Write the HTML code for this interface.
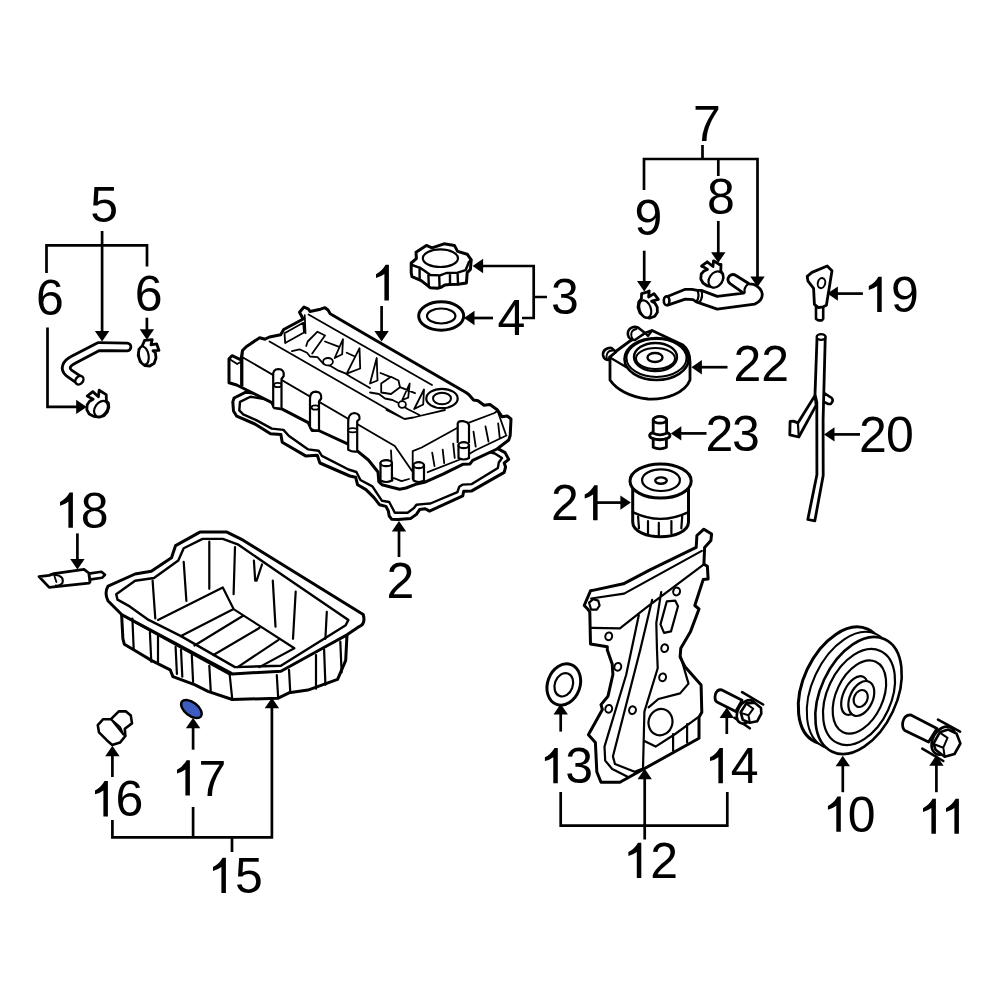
<!DOCTYPE html>
<html><head><meta charset="utf-8"><style>
html,body{margin:0;padding:0;background:#fff;}
svg{display:block;}
text{font-family:"Liberation Sans",sans-serif;font-size:50px;fill:#000;}
</style></head><body>
<svg width="1000" height="1000" viewBox="0 0 1000 1000">
<rect width="1000" height="1000" fill="#fff"/>
<g fill="#fff" stroke="#000" stroke-width="2.6" stroke-linejoin="round" stroke-linecap="round">
<path d="M497,448.1 L420,425 L300,398 L245.8,392.2 L234.1,398 L232.8,401.9 L233.5,411 L236.7,416.2 L254.9,424 L270.5,433.8 L280.9,434.4 L282.2,442.2 L305.6,455.9 L317.3,455.2 L319.9,463 L349.8,476 L355.6,477.2 L357.6,484.8 L366,489.6 L374,497.6 L379.6,504.8 L386,506.4 L388.4,511.2 L389.2,516 L391.6,519.2 L398,519.6 L410.8,518.4 L416.4,514.4 L419.6,509.6 L425.2,508.8 L429.5,511.1 L462.8,495.8 L463.7,491.3 L471.8,490.9 L504.2,472.4 L505.6,467 L504.2,463 L508.7,459.4 L505.1,452.6 Z" stroke-width="3"/>
<path d="M494.8,453.5 L420,432 L300,405 L250.4,396.7 L240,401.9 L239.3,410.4 L243.2,414.3 L256.2,420.1 L271.8,428.6 L283.5,429.9 L288.7,435.7 L308.2,449.4 L318.6,450.7 L321.9,455.9 L348.5,469.5 L356.4,472 L360.4,480 L372.4,486.4 L382,500.8 L389.2,502 L392.4,508 L394.8,512.8 L407.6,512.8 L414,508 L416.4,504.8 L425,503.9 L430.4,503.5 L457.4,492.2 L459.2,486.8 L462.8,484.6 L471.8,484.1 L497.9,467.9 L498.8,462.5 L502,458 Z" stroke-width="2.4"/>
<path d="M229.0,382.7 L229.0,358.7 L232.0,355.7 L241.0,359.8 L242.5,350.5 L246.2,346.7 L259.7,337.7 L265.0,339.2 L269.5,337.0 L280.7,334.7 L283.7,329.5 L303.2,319.0 L299.5,312.2 L304.0,307.0 L308.5,309.2 L310.0,311.5 L320.5,309.2 L325.0,307.7 L328.0,310.0 L330.2,313.7 L370.0,337.0 L466.0,392.5 L469.0,394.7 L473.5,400.0 L478.0,400.7 L484.0,405.2 L490.0,404.5 L497.5,410.0 L502.0,416.7 L507.2,416.0 L511.0,419.0 L510.2,435.5 L508.7,440 L497,449 L472.7,460.3 L470,463.9 L462.8,464.3 L443,474.2 L424.4,482.4 L415.6,484.4 L406,488 L399.6,489.2 L391.6,487.2 L382,484.8 L378.8,481.6 L378,472 L368.4,460 L349.8,444.8 L318.6,430.5 L312.1,430.5 L308.2,422.7 L282.2,409.1 L274.4,407.8 L271.8,402.6 L236.7,385 Z" stroke-width="3"/>
<path d="M229.0,358.7 L237.2,364.0 L241.0,361.7 M242.5,350.5 L242.5,385.7 M241.0,361.7 L241.0,385.0 M269.5,341.5 L404.5,419 M308.5,314.5 L432,385 M304.7,315.2 L305.5,333.2 M284.5,333.2 L303.2,322.7 L304.0,332.5 L285.2,343.0 Z M306.2,346.0 L307.7,341.5 L317.5,331.7 L325.0,335.5 L312.2,353.5 M325.0,341.5 L338.5,346.7 M346.7,352.7 L355.0,356.5 M343.0,339.2 L342.2,354.2 L334.7,358.0 Z M359.5,348.2 L360.2,368.5 L346.7,373.7 Z M292.0,351.2 L299.5,349.3 L307.0,352.7 L310.0,356.5 L317.5,357.2 L323.5,364.0 L331.0,366.2 L338.5,370.7 L346.0,373.7 L350.5,376.7 L370.0,388.0 M376.7,358.0 L377.5,380.5 L370.0,383.5 Z M380.5,373.0 L389.5,376.7 M381.2,383.5 L391.0,376.7 L398.5,380.5 L400.0,387.2 L391.0,394.0 L381.2,392.5 Z M400.0,387.2 L415.0,393.2 M409.7,383.5 L408.2,397.7 L402.2,400.0 Z M424.0,389.5 L423.2,404.5 L414.2,409.0 Z M370.0,392.5 L379.0,394.0 L385.0,398.5 L392.5,400.0 L398.5,403.0 L407.5,409.0 L419.5,415.0 M242.5,357.2 L394.8,446 L412,471 M386.5,410.0 L404.5,419.0 L413.5,417.5 L419.5,416.0 L445.0,410.0 M391.0,450.5 L392.5,480.5 M394.0,478.2 L401.5,481.2 L409.0,479.0 M412.7,479.0 L412.7,451.2 L421.7,447.5 L458.5,427.2 M469.0,422.7 L494.5,413.0 L497.5,410.7 M427.7,472.2 L460.0,459.5 L475.0,450.5 L506.5,435.5 M497.5,410.7 L505.7,434.0 M432.2,452.7 L434.5,466.2 M442.7,449.7 L444.2,463.2 M453.2,443.7 L454.7,458.0 M473.5,431.7 L475.7,446.7 M485.5,426.5 L488.5,441.5 M498.2,423.5 L499.7,437.7" stroke-width="1.8" fill="none"/>
<ellipse cx="442.0" cy="398.5" rx="15.7" ry="9.7" stroke-width="2.2"/>
<ellipse cx="442.0" cy="398.5" rx="9.0" ry="5.7" stroke-width="2"/>
<ellipse cx="402.2" cy="404.5" rx="3.7" ry="3.3" stroke-width="1.8"/>
<ellipse cx="328.0" cy="361.7" rx="4.9" ry="3.7" stroke-width="1.8"/>
<path d="M273.2,406.7 L273.2,376.0 Q272.5,369.2 278.5,369.2 Q284.5,369.2 283.7,376.0 L281.5,379.0 L281.5,407.5" stroke-width="2.2"/>
<path d="M310.0,427.3 L310.0,398.5 Q310.0,391.7 316.0,391.7 Q322.0,392.2 321.2,398.5 L319.0,401.5 L319.0,430.3 L314.5,430.3 Q311.5,430.3 310.0,427.3 Z" stroke-width="2.2"/>
<path d="M348.2,449.7 L348.2,423.5 Q347.5,413.7 354.2,413.0 Q360.2,413.7 359.5,419.0 L357.2,421.2 L357.2,451.2 Q353.5,452.7 348.2,449.7" stroke-width="2.2"/>
<ellipse cx="277.7" cy="385.0" rx="3.7" ry="2.2" stroke-width="1.8"/>
<ellipse cx="315.2" cy="407.5" rx="3.7" ry="2.2" stroke-width="1.8"/>
<ellipse cx="352.7" cy="430.2" rx="4.5" ry="2.1" stroke-width="1.8"/>
<path d="M457.7,442.2 L457.7,423.5 Q458.5,420.5 463.0,421.2 Q468.2,422.0 469.0,425.0 L469.0,442.2" stroke-width="2.2"/>
<path d="M380.5,463.2 L380.5,480.5 Q386.2,483.5 391.9,480.5 L391.9,463.2" stroke-width="2.2"/>
<ellipse cx="386.2" cy="463.2" rx="5.7" ry="3.0" stroke-width="2.2"/>
<path d="M413.5,465.2 L413.5,480.5 Q418.7,483.5 424.0,480.5 L424.0,465.2" stroke-width="2.2"/>
<ellipse cx="418.7" cy="465.2" rx="5.2" ry="3.0" stroke-width="2.2"/>
<path d="M458.5,445.2 L458.5,458.0 Q463.7,461.0 469.0,458.0 L469.0,445.2" stroke-width="2.2"/>
<ellipse cx="463.7" cy="445.2" rx="5.2" ry="3.0" stroke-width="2.2"/>
<ellipse cx="441.2" cy="316.0" rx="22.5" ry="14.2" stroke-width="3"/>
<ellipse cx="441.2" cy="316.0" rx="14.2" ry="7.5" stroke-width="2.2"/>
<path d="M411.2,263.0 L416.4,258.6 L416.0,252.2 L426.4,245.4 L432.0,247.8 L444.0,243.8 L454.4,245.4 L457.6,251.4 L467.2,254.2 L471.2,259.8 L470.4,269.4 L467.2,272.6 L466.4,283.0 L458.0,284.2 L449.6,284.6 L444.8,285.0 L441.6,287.0 L437.6,288.2 L430.4,287.8 L426.4,284.6 L421.2,280.6 L412.0,276.6 L411.2,272.6 Z" stroke-width="3"/>
<path d="M412.0,265.0 L420.0,267.8 L424.8,271.0 L430.4,275.0 L440.0,275.4 L446.4,273.0 L457.6,272.6 L465.6,270.2 L468.8,262.2 L471.2,259.8 M419.6,267.4 L419.6,279.0 M428.4,275.4 L428.8,286.2 M439.2,275.8 L439.6,287.8 M450.0,273.0 L450.0,284.2 M457.6,272.6 L458.0,284.2" stroke-width="2.4" fill="none"/>
<ellipse cx="440.4" cy="258.2" rx="17.6" ry="8.8" stroke-width="2.2"/>
<path d="M127.0,347.0 L98.6,346.6 L73.4,359.8 C66.2,363.4 63.8,368.6 69.0,373.0 L78.2,379.4" fill="none" stroke-width="10.6" stroke-linecap="round"/>
<path d="M127.0,347.0 L98.6,346.6 L73.4,359.8 C66.2,363.4 63.8,368.6 69.0,373.0 L78.2,379.4" fill="none" stroke="#fff" stroke-width="5.0" stroke-linecap="round"/>
<ellipse cx="79.4" cy="380.2" rx="3.6" ry="4.6" transform="rotate(40 79.4 380.2)" stroke-width="2.4"/>
<path d="M87.2,396.0 L92.8,391.6 L98.4,396.8 L99.2,390.2 L106.2,394.6 L106.4,400.8 L108.4,403.2 L108.8,407.2 L107.2,412.0 L104.0,415.6 L99.2,417.2 L94.0,416.4 L89.2,414.0 L86.8,409.6 L87.2,404.8 L89.6,401.2 L93.2,399.2 L90.0,397.6 Z" stroke-width="2.8"/>
<ellipse cx="101.0" cy="408.8" rx="6.0" ry="8.6" transform="rotate(35 101.0 408.8)" stroke-width="2.2"/>
<path d="M144.6,340.4 L152.2,339.6 L151.0,344.8 L156.6,343.8 L159.0,350.4 L153.0,350.6 L155.4,352.8 L156.0,358.0 L154.2,363.2 L149.8,366.0 L145.0,365.6 L140.2,361.6 L138.2,355.6 L139.0,349.2 L142.2,346.0 Z" stroke-width="2.8"/>
<ellipse cx="143.8" cy="355.6" rx="4.8" ry="9.2" transform="rotate(-10 143.8 355.6)" stroke-width="2.2"/>
<path d="M665.0,297.5 L685.3,289.3 L691.9,289.3 L697.4,290.4 L701.3,290.4 L717.2,296.4 L743.6,293.1 L730.4,283.8 Q726.0,280.5 729.3,276.1 Q732.6,273.3 735.9,275.5 L749.1,283.8 L753.5,284.3 Q761.2,287.6 762.3,294.2 Q762.3,300.8 754.6,304.1 L717.2,309.1 L696.3,301.9 L693.0,299.7 L685.3,299.2 L667.7,305.2 Q663.9,303.0 665.0,297.5 Z" stroke-width="2.8"/>
<path d="M697.4,290.4 Q700.2,296.4 696.3,301.9 M701.3,290.4 Q703.5,296.4 699.6,302.5 M748.0,284.1 Q743.6,287.6 744.7,292.6" stroke-width="2.2" fill="none"/>
<ellipse cx="666.6" cy="300.8" rx="2.8" ry="4.4" stroke-width="2.6"/>
<path d="M701.5,266.2 L707.2,261.8 L713.0,266.5 L713.5,260.8 L719.5,264.5 L721.0,264.5 L720.8,271.0 L722.8,274.0 L723.2,278.0 L721.5,282.5 L718.0,286.0 L713.0,287.2 L707.5,286.0 L703.0,283.0 L700.8,279.0 L701.2,274.0 L704.0,271.0 L707.5,269.5 L705.0,267.8 Z" stroke-width="2.8"/>
<ellipse cx="715.8" cy="279.5" rx="6.5" ry="8.8" transform="rotate(35 715.8 279.5)" stroke-width="2.2"/>
<path d="M641.6,293.6 L647.6,291.8 L649.2,291.0 L648.6,297.0 L654.0,293.6 L658.4,299.4 L651.6,301.2 L654.8,303.0 L657.2,307.0 L657.4,312.2 L654.8,316.2 L649.6,318.2 L644.4,317.0 L640.0,313.0 L638.0,307.4 L638.8,301.8 L641.4,298.6 Z" stroke-width="2.8"/>
<ellipse cx="645.2" cy="309.0" rx="5.6" ry="9.0" transform="rotate(-20 645.2 309.0)" stroke-width="2.2"/>
<path d="M610.0,357.0 L610.0,380.0 C616.0,389.0 630.0,397.5 648.0,399.0 C666.0,400.0 685.0,393.0 690.0,380.0 L690.0,362.0 C690.0,353.0 687.0,348.0 683.0,345.0 L652.0,330.5 L645.0,333.0 L630.0,341.0 L615.0,352.0 Z" stroke-width="2.8"/>
<path d="M628.0,335.0 C627.0,329.0 632.5,325.5 638.0,327.5 L645.0,333.0 L635.0,340.0 C632.0,340.0 628.5,338.5 628.0,335.0 Z" stroke-width="2.6"/>
<path d="M636.5,329.0 C631.5,329.5 629.5,334.5 633.0,339.5" stroke-width="1.8" fill="none"/>
<path d="M603.0,355.0 C602.5,350.0 607.5,347.5 611.5,348.0 L616.0,352.0 L609.5,357.0 L609.0,360.0 C606.0,360.0 603.5,358.0 603.0,355.0 Z" stroke-width="2.6"/>
<path d="M612.5,350.5 C607.5,350.5 605.5,355.0 607.0,359.2" stroke-width="1.8" fill="none"/>
<path d="M610.0,357.5 L626.0,367.0 M645.0,333.0 L648.0,336.0 L652.0,330.5" stroke-width="2.2" fill="none"/>
<ellipse cx="656.5" cy="359.0" rx="32.0" ry="21.0" stroke-width="2.6"/>
<ellipse cx="656.5" cy="358.0" rx="30.0" ry="19.0" stroke-width="2"/>
<ellipse cx="655.5" cy="357.0" rx="21.5" ry="14.0" stroke-width="2.4"/>
<ellipse cx="655.5" cy="358.5" rx="19.5" ry="10.5" stroke-width="2"/>
<ellipse cx="655.0" cy="357.5" rx="7.5" ry="4.5" stroke-width="2.4"/>
<path d="M653.2,438.0 L653.2,447.2 Q659.8,450.4 666.4,447.2 L666.4,438.0 Z" stroke-width="2.8"/>
<ellipse cx="659.8" cy="435.6" rx="10.2" ry="4.2" stroke-width="2.8"/>
<path d="M650.8,437.6 Q659.8,441.2 668.8,437.6" stroke-width="1.8" fill="none"/>
<path d="M653.2,419.8 L653.2,433.2 Q659.8,436.4 666.6,433.2 L666.6,419.8 Z" stroke-width="2.8"/>
<ellipse cx="659.9" cy="419.8" rx="6.7" ry="3.4" stroke-width="2.8"/>
<path d="M632.7,481.5 L632.7,522.0 C632.7,531.9 648.0,536.8 660.6,536.8 C673.2,536.8 688.5,531.9 688.5,522.0 L688.5,481.5 Z" stroke-width="3"/>
<path d="M632.7,512.1 Q660.6,525.6 688.5,512.1" stroke-width="2.4" fill="none"/>
<path d="M638.1,516.6 L639.0,528.3 M648.0,521.1 L648.0,533.7 M658.8,522.9 L658.8,535.5 M671.4,521.1 L671.4,533.7 M682.2,516.6 L681.3,528.3" stroke-width="2.2" fill="none"/>
<ellipse cx="660.6" cy="481.0" rx="30.6" ry="17.1" stroke-width="3"/>
<ellipse cx="661.0" cy="480.2" rx="18.9" ry="10.8" stroke-width="2.2"/>
<ellipse cx="661.0" cy="480.6" rx="5.8" ry="3.2" stroke-width="2.4"/>
<path d="M816.0,305.2 L816.0,318.8 L818.4,320.4 L821.9,320.4 L823.2,318.8 L823.2,305.2 Z" stroke-width="2.6"/>
<path d="M807.2,276.4 L812.0,272.4 L827.2,266.0 L832.0,270.8 L826.4,305.2 L823.2,306.8 L818.4,307.6 L814.4,304.4 L813.6,288.4 L808.0,281.2 Z" stroke-width="2.8"/>
<ellipse cx="821.5" cy="283.1" rx="3.7" ry="5.1" transform="rotate(15 821.5 283.1)" stroke-width="2"/>
<path d="M823.4,392.6 L831.8,398 Q834,401 830.6,404 L828.2,404 L823.4,401.6 Z" stroke-width="2.6"/>
<path d="M815,395.6 L797.9,422.9 L793.4,421.1 L790.1,421.4 L789.8,434.9 L798.8,437 L816.2,405.2 Z" stroke-width="2.8"/>
<path d="M797.9,423.2 L798.8,437" stroke-width="2.2" fill="none"/>
<path d="M817,338.5 L815,394.4 L816.8,402.2 L816.9,474.7 L807.8,519.5 L814.8,520.9 L823.2,475.4 L823.1,420 L825.25,337.5 Z" stroke-width="2.8"/>
<ellipse cx="821.1" cy="337" rx="4.4" ry="2.9" stroke-width="2.4"/>
<path d="M121.6,614.5 L122.9,638.8 L124.3,644.2 L137.8,652.3 L151.3,660.4 L170.2,669.8 L172.9,676.6 L194.5,684.7 L208.0,691.4 L232.3,699.5 L278.2,698.2 L289.0,692.8 L307.9,690.1 L337.6,679.3 L345.7,660.4 L347.0,634.7 L289.0,665.8 L229.6,673.9 Z" stroke-width="3"/>
<path d="M108.1,586.1 L135.1,574.0 L151.3,571.3 L171.5,557.8 L175.6,545.6 L199.9,532.1 L226.9,532.1 L243.1,540.2 L363.2,614.5 Q365.9,623.9 359.2,626.6 L347.0,634.7 L280.9,671.2 L232.3,673.9 L121.6,614.5 L108.1,601.0 Q104.0,592.9 108.1,586.1 Z" stroke-width="3"/>
<path d="M116.2,594.2 L135.1,580.7 L154.0,578.0 L178.3,560.5 L183.7,548.3 L202.6,538.9 L222.8,538.9 L237.7,544.3 L280.9,574.0 L348.4,619.9 L345.7,625.3 L280.9,665.8 L235.0,667.1 L181.0,636.1 L148.6,619.9 L129.7,606.4 L117.5,599.6 Z" stroke-width="2.4"/>
<path d="M152.6,580.7 L155.3,618.5 M183.7,561.8 L186.4,601.0 M209.3,541.6 L209.3,588.8 M235.0,547.0 L233.6,594.2 M253.9,560.5 L255.2,580.7 M262.0,564.5 L256.6,580.7 M272.8,580.7 L275.5,626.6 M295.7,591.5 L293.0,638.8 M326.8,611.8 L325.4,638.8 M158.0,619.9 L222.8,587.5 L233.6,609.1 L181.0,636.1 M233.6,609.1 L294.4,648.2 M194.5,645.5 L243.1,615.8 M213.4,655.0 L259.3,628.0 M237.7,667.1 L278.2,640.1 M259.3,667.1 L294.4,648.2 M132.4,618.5 L133.7,649.6 M149.9,632.0 L151.3,661.7 M158.0,636.1 L158.0,663.1 M175.6,646.9 L176.9,673.9 M181.0,649.6 L182.3,676.6 M191.8,655.0 L193.1,682.0 M209.3,665.8 L210.7,690.1 M229.6,673.9 L232.3,699.5 M276.8,675.2 L278.2,698.2 M289.0,669.8 L290.3,692.8 M316.0,655.0 L316.0,688.7 M324.1,649.6 L325.4,684.7 M340.3,641.5 L341.6,672.5" stroke-width="2.2" fill="none"/>
<path d="M88.8,573.6 L101.4,571.8 L105.0,574.8 L102.0,577.8 L89.4,579.6 Z" stroke-width="2.6"/>
<path d="M39.0,576.6 L49.2,575.4 L54.0,573.6 L84.0,569.4 L88.8,573.0 L90.0,582.0 L88.8,583.2 L49.2,587.4 Z" stroke-width="2.8"/>
<path d="M54.6,574.8 Q64.8,576.0 62.4,583.2 Q60.0,586.2 55.8,585.6" stroke-width="2" fill="none"/>
<path d="M54.0,574.8 L56.4,582.0 Z" stroke-width="1.8" fill="none"/>
<path d="M97.8,725.2 L103.2,719.2 L111.0,719.2 L118.8,711.4 L126.0,711.4 L130.8,715.6 L132.0,723.4 L124.8,728.8 L125.4,736.0 L120.0,742.6 L112.2,745.0 L106.8,740.2 L99.0,732.4 Z" stroke-width="2.6"/>
<path d="M111.6,719.8 L120.0,727.0 L123.6,734.8 Z" stroke-width="2" fill="none"/>
<ellipse cx="191.4" cy="709.0" rx="12.0" ry="6.6" transform="rotate(38 191.4 709.0)" stroke-width="2.4" fill="#3c5cbf"/>
<path d="M584.2,605.5 L590.5,590.8 L594.0,590.1 L623.4,583.8 L650.0,569.8 L696.2,547.4 L696.9,535.5 L703.9,529.2 L711.6,534.1 L710.9,540.4 L704.6,547.4 L703.9,564.2 L707.4,566.3 L708.1,578.9 L703.2,579.6 L694.8,605.5 L699.0,609.0 L690.6,631.4 L680.8,648.2 L680.1,657.0 L685.0,666.8 L701.1,685.0 L701.8,712.3 L699.0,717.2 L699.0,738.2 L619.9,782.3 L601.0,782.3 L596.8,771.8 L595.4,742.4 L588.4,734.7 L602.4,709.5 L601.0,704.6 L608.0,696.2 L612.9,674.5 L612.2,664.0 L607.3,650.0 L607.3,646.8 L590.5,644.0 L589.8,611.8 L587.7,609.0 Z" stroke-width="3"/>
<path d="M591.2,598.5 L624.1,593.6 L701.8,550.9 M591.9,627.9 L619.9,628.3 L647.2,606.9 L703.2,564.9 M589.1,602.7 L593.3,599.2 L598.2,600.6 L599.6,605.5 L596.8,609.7 L591.2,609.7 Z M660.5,624.4 L666.8,601.3 L675.2,600.6 L678.0,606.2 L671.0,631.4 L664.0,632.8 Z M638.8,615.3 L626.2,674.8 L604.5,746.6 L605.2,760.6 L612.2,769.0 L627.6,776.7 M652.1,599.9 L640.2,650.0 L612.9,756.4 L615.0,764.1 L634.6,771.8 L641.6,769.0 M661.2,592.2 L656.3,623.0 L657.0,650.0 L657.7,668.2 L644.4,711.6 L643.0,769.0 M680.8,657.0 L688.5,683.6 L680.1,693.4 L658.4,699.0 L648.6,707.4 M644.4,741.0 L655.6,746.6 L675.2,734.0 L698.3,717.2 M673.1,734.0 L673.1,750.8 M687.1,724.2 L687.1,742.4" stroke-width="2.2" fill="none"/>
<ellipse cx="676.6" cy="591.5" rx="3.4" ry="3.9" transform="rotate(15 676.6 591.5)" stroke-width="2"/>
<ellipse cx="608.7" cy="636.3" rx="3.4" ry="3.9" transform="rotate(15 608.7 636.3)" stroke-width="2"/>
<ellipse cx="664.7" cy="648.2" rx="3.4" ry="3.9" transform="rotate(15 664.7 648.2)" stroke-width="2"/>
<ellipse cx="617.8" cy="666.8" rx="3.4" ry="3.9" transform="rotate(15 617.8 666.8)" stroke-width="2"/>
<ellipse cx="662.6" cy="677.3" rx="3.4" ry="3.9" transform="rotate(15 662.6 677.3)" stroke-width="2"/>
<ellipse cx="608.7" cy="708.8" rx="3.4" ry="3.9" transform="rotate(15 608.7 708.8)" stroke-width="2"/>
<ellipse cx="632.5" cy="710.2" rx="3.4" ry="3.9" transform="rotate(15 632.5 710.2)" stroke-width="2"/>
<ellipse cx="660.5" cy="722.1" rx="11.9" ry="13.3" transform="rotate(15 660.5 722.1)" stroke-width="2.2"/>
<ellipse cx="563.8" cy="684.5" rx="16.2" ry="21.2" transform="rotate(20 563.8 684.5)" stroke-width="3"/>
<ellipse cx="563.8" cy="684.8" rx="9.0" ry="12.0" transform="rotate(20 563.8 684.8)" stroke-width="2.2"/>
<path d="M742.1,692.2 L763.1,704.5 M734.4,717.8 L749.8,728.3" stroke-width="2.6" fill="none"/>
<path d="M721.4,689.8 L742.1,700.3 L735.8,711.5 L716.9,702.0 Q714.1,699.9 715.5,694.0 Q717.2,689.4 721.4,689.8 Z" stroke-width="2.8"/>
<ellipse cx="746.3" cy="711.8" rx="8.4" ry="12.6" transform="rotate(30 746.3 711.8)" stroke-width="2.6"/>
<path d="M740.7,712.2 L746.3,703.4 L754.7,702.7 L761.0,708.0 L761.3,713.6 L757.1,721.3 L749.8,722.7 L742.8,719.9 Z" stroke-width="2.6"/>
<path d="M746.3,703.8 L753.3,708.7 L748.4,715.3 L740.7,712.9 M748.4,715.3 L749.8,722.3" stroke-width="2" fill="none"/>
<ellipse cx="841.5" cy="685.5" rx="37.9" ry="62.1" transform="rotate(25 841.5 685.5)" stroke-width="3"/>
<ellipse cx="850" cy="690.5" rx="37.9" ry="62.1" transform="rotate(25 850 690.5)" stroke-width="2"/>
<ellipse cx="858.5" cy="695.5" rx="37.9" ry="62.1" transform="rotate(25 858.5 695.5)" stroke-width="2.6"/>
<ellipse cx="859" cy="697" rx="31.9" ry="50.8" transform="rotate(25 859 697)" stroke-width="2.2"/>
<ellipse cx="859.4" cy="697" rx="23.3" ry="38.8" transform="rotate(25 859.4 697)" stroke-width="2.2"/>
<ellipse cx="854.5" cy="695.5" rx="11.1" ry="20.6" transform="rotate(25 854.5 695.5)" stroke-width="2.2"/>
<ellipse cx="861.3" cy="698.5" rx="11.4" ry="18.5" transform="rotate(25 861.3 698.5)" stroke-width="2.2"/>
<ellipse cx="860.7" cy="698.5" rx="6.7" ry="8.8" transform="rotate(25 860.7 698.5)" stroke-width="2.2"/>
<path d="M938.0,719.7 L960.1,731.6 M922.3,748.7 L943.3,761.0" stroke-width="2.6" fill="none"/>
<path d="M910.4,714.8 L937.0,728.4 L928.6,742.1 L904.8,730.5 Q902.0,728.1 902.7,722.5 Q904.1,714.8 910.4,714.8 Z" stroke-width="2.8"/>
<ellipse cx="943.3" cy="740.7" rx="10.5" ry="15.0" transform="rotate(30 943.3 740.7)" stroke-width="2.6"/>
<path d="M933.5,743.5 L939.8,732.3 L948.2,729.5 L956.6,733.7 L960.4,743.5 L954.5,754.0 L944.7,756.8 L935.6,749.8 Z" stroke-width="2.6"/>
<path d="M939.8,732.6 L947.5,737.9 L943.3,747.7 L934.2,744.2 M943.3,747.7 L944.7,756.4" stroke-width="2" fill="none"/>
</g>
<g fill="none" stroke="#000" stroke-width="2.7">
<path d="M381.6,306 V336"/>
<polygon points="381.6,341.5 374.4,331.0 388.8,331.0" fill="#000" stroke="none"/>
<path d="M399,557 V526"/>
<polygon points="399.0,521.0 391.8,531.5 406.2,531.5" fill="#000" stroke="none"/>
<path d="M478,266 H533.7 V318 H522 M533.7,297 H547"/>
<polygon points="472.6,266.0 483.1,258.8 483.1,273.2" fill="#000" stroke="none"/>
<path d="M493,318 H470"/>
<polygon points="464.0,318.0 474.5,310.8 474.5,325.2" fill="#000" stroke="none"/>
<path d="M102.1,231 V336 M46.5,273 V245.4 H147 V266.4"/>
<polygon points="102.1,341.5 94.9,331.0 109.3,331.0" fill="#000" stroke="none"/>
<path d="M146.9,317.7 V334"/>
<polygon points="146.9,339.7 139.7,329.2 154.1,329.2" fill="#000" stroke="none"/>
<path d="M47.5,327.5 V406.9 H81"/>
<polygon points="86.7,406.9 76.2,399.7 76.2,414.1" fill="#000" stroke="none"/>
<path d="M702.5,145 V159 M644,190 V159 H757.5 V282 M718.3,159 V176"/>
<polygon points="757.5,287.0 750.3,276.5 764.7,276.5" fill="#000" stroke="none"/>
<path d="M718.3,221 V257"/>
<polygon points="718.3,262.8 711.1,252.3 725.5,252.3" fill="#000" stroke="none"/>
<path d="M644.2,250.7 V286"/>
<polygon points="644.2,291.4 637.0,280.9 651.4,280.9" fill="#000" stroke="none"/>
<path d="M862.9,293.6 H833"/>
<polygon points="827.4,293.6 837.9,286.4 837.9,300.8" fill="#000" stroke="none"/>
<path d="M860,434.4 H830"/>
<polygon points="824.0,434.4 834.5,427.2 834.5,441.6" fill="#000" stroke="none"/>
<path d="M727.5,367.2 H697"/>
<polygon points="691.4,367.2 701.9,360.0 701.9,374.4" fill="#000" stroke="none"/>
<path d="M706.5,433.4 H676"/>
<polygon points="670.8,433.4 681.3,426.2 681.3,440.6" fill="#000" stroke="none"/>
<path d="M595.8,502.6 H625"/>
<polygon points="630.9,502.6 620.4,495.4 620.4,509.8" fill="#000" stroke="none"/>
<path d="M77.4,533.4 V564"/>
<polygon points="77.4,569.4 70.2,558.9 84.6,558.9" fill="#000" stroke="none"/>
<path d="M112.4,820 V837.4 H271.9 V703 M193.1,807 V837.4 M232,837.4 V852"/>
<polygon points="271.9,697.7 264.7,708.2 279.1,708.2" fill="#000" stroke="none"/>
<path d="M112.4,777 V751"/>
<polygon points="112.4,745.8 105.2,756.3 119.6,756.3" fill="#000" stroke="none"/>
<path d="M193.1,749.7 V723"/>
<polygon points="193.1,717.7 185.9,728.2 200.3,728.2" fill="#000" stroke="none"/>
<path d="M560.7,792 V825.7 H727.3 V792 M644.7,839.6 V774"/>
<polygon points="644.7,768.8 637.5,779.3 651.9,779.3" fill="#000" stroke="none"/>
<path d="M560.7,731.6 V709"/>
<polygon points="560.7,704.0 553.5,714.5 567.9,714.5" fill="#000" stroke="none"/>
<path d="M726.8,734 V713"/>
<polygon points="726.8,707.6 719.6,718.1 734.0,718.1" fill="#000" stroke="none"/>
<path d="M842.8,792.2 V761"/>
<polygon points="842.8,755.8 835.6,766.3 850.0,766.3" fill="#000" stroke="none"/>
<path d="M936.4,792.2 V761"/>
<polygon points="936.4,755.3 929.2,765.8 943.6,765.8" fill="#000" stroke="none"/>
</g>
<g>
<text x="386.60" y="598.40">2</text>
<text x="551.00" y="313.70">3</text>
<text x="497.60" y="334.50">4</text>
<text x="90.30" y="222.00">5</text>
<text x="36.10" y="315.00">6</text>
<text x="134.80" y="311.00">6</text>
<text x="693.00" y="141.40">7</text>
<text x="707.00" y="214.40">8</text>
<text x="634.50" y="234.60">9</text>
<path d="M385.60,264.75 L388.90,264.75 L388.90,300.50 L384.40,300.50 L384.40,274.05 Q380.90,276.75 376.00,277.95 L376.00,274.15 Q381.90,271.25 385.60,264.75 Z" fill="#000"/>
<path d="M837.50,796.50 L840.80,796.50 L840.80,831.80 L836.30,831.80 L836.30,805.80 Q832.80,808.50 827.90,809.70 L827.90,805.90 Q833.80,803.00 837.50,796.50 Z" fill="#000"/>
<text x="847.80" y="831.80">0</text>
<path d="M638.00,842.70 L641.30,842.70 L641.30,878.00 L636.80,878.00 L636.80,852.00 Q633.30,854.70 628.40,855.90 L628.40,852.10 Q634.30,849.20 638.00,842.70 Z" fill="#000"/>
<text x="650.20" y="878.00">2</text>
<path d="M554.50,747.90 L557.80,747.90 L557.80,783.20 L553.30,783.20 L553.30,757.20 Q549.80,759.90 544.90,761.10 L544.90,757.30 Q550.80,754.40 554.50,747.90 Z" fill="#000"/>
<text x="565.20" y="783.20">3</text>
<path d="M719.60,747.90 L722.90,747.90 L722.90,783.20 L718.40,783.20 L718.40,757.20 Q714.90,759.90 710.00,761.10 L710.00,757.30 Q715.90,754.40 719.60,747.90 Z" fill="#000"/>
<text x="730.80" y="783.20">4</text>
<path d="M222.60,857.70 L225.90,857.70 L225.90,893.00 L221.40,893.00 L221.40,867.00 Q217.90,869.70 213.00,870.90 L213.00,867.10 Q218.90,864.20 222.60,857.70 Z" fill="#000"/>
<text x="235.00" y="893.00">5</text>
<path d="M104.60,781.10 L107.90,781.10 L107.90,816.40 L103.40,816.40 L103.40,790.40 Q99.90,793.10 95.00,794.30 L95.00,790.50 Q100.90,787.60 104.60,781.10 Z" fill="#000"/>
<text x="115.60" y="816.40">6</text>
<path d="M186.60,760.30 L189.90,760.30 L189.90,795.60 L185.40,795.60 L185.40,769.60 Q181.90,772.30 177.00,773.50 L177.00,769.70 Q182.90,766.80 186.60,760.30 Z" fill="#000"/>
<text x="198.60" y="795.60">7</text>
<path d="M69.60,492.50 L72.90,492.50 L72.90,527.80 L68.40,527.80 L68.40,501.80 Q64.90,504.50 60.00,505.70 L60.00,501.90 Q65.90,499.00 69.60,492.50 Z" fill="#000"/>
<text x="80.80" y="527.80">8</text>
<path d="M878.40,276.70 L881.70,276.70 L881.70,312.00 L877.20,312.00 L877.20,286.00 Q873.70,288.70 868.80,289.90 L868.80,286.10 Q874.70,283.20 878.40,276.70 Z" fill="#000"/>
<text x="891.00" y="312.00">9</text>
<path d="M932.60,798.75 L935.90,798.75 L935.90,833.75 L931.40,833.75 L931.40,808.05 Q927.90,810.75 923.00,811.95 L923.00,808.15 Q928.90,805.25 932.60,798.75 Z" fill="#000"/>
<path d="M955.60,798.75 L958.90,798.75 L958.90,833.75 L954.40,833.75 L954.40,808.05 Q950.90,810.75 946.00,811.95 L946.00,808.15 Q951.90,805.25 955.60,798.75 Z" fill="#000"/>
<text x="859.00" y="452.40">2</text>
<text x="886.00" y="452.40">0</text>
<text x="551.00" y="520.20">2</text>
<path d="M594.30,485.20 L597.60,485.20 L597.60,520.20 L593.10,520.20 L593.10,494.50 Q589.60,497.20 584.70,498.40 L584.70,494.60 Q590.60,491.70 594.30,485.20 Z" fill="#000"/>
<text x="733.60" y="381.30">2</text>
<text x="761.30" y="381.30">2</text>
<text x="705.60" y="451.20">2</text>
<text x="732.00" y="451.20">3</text>
</g>
</svg>
</body></html>
